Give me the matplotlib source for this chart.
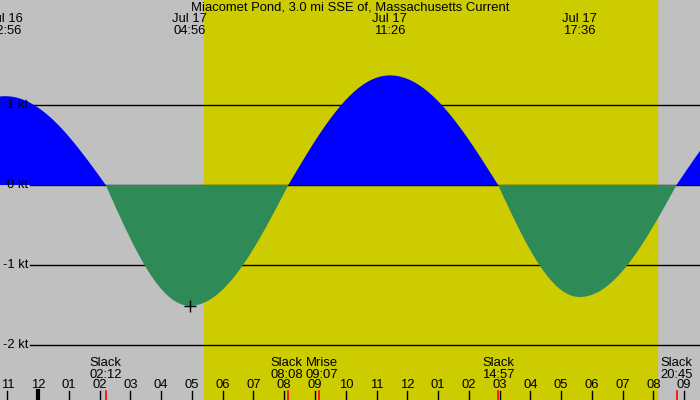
import numpy as np
import matplotlib
matplotlib.use("Agg")
import matplotlib.pyplot as plt

plt.rcParams['font.family'] = ['Liberation Sans', 'DejaVu Sans']

# current events, hours counted from Jul 16 00:00
event_hours = [19.6, 22.933, 26.2, 28.933, 32.133, 35.433, 38.95, 41.6, 44.75, 48.05]
event_speed = [0.0, 1.11, 0.0, -1.51, 0.0, 1.37, 0.0, -1.40, 0.0, 1.20]

# labels along the top (max current times)
top_hours = [22.933, 28.933, 35.433, 41.6]
top_labels = ["Jul 16\n22:56", "Jul 17\n04:56", "Jul 17\n11:26", "Jul 17\n17:36"]

# labels along the bottom (slack + moonrise)
bottom_hours = [26.2, 32.133, 33.117, 38.95, 44.75]
bottom_labels = ["Slack\n02:12", "Slack\n08:08", "Mrise\n09:07", "Slack\n14:57", "Slack\n20:45"]

sunrise = 29.39
sunset = 44.11

hour_ticks = list(range(23, 46))
kt_levels = [1, 0, -1, -2]

BG = "#c0c0c0"
DAY = "#cccc00"
FLOOD = "#0000ff"
EBB = "#2e8b57"
FS = 9.4

px_per_h = 30.77
x0_h = 23 - 7.3 / px_per_h
x1_h = x0_h + 700 / px_per_h


def kt(ypx):
    # pixel row -> knots (0 kt sits at row 185, 80 px per knot)
    return (185 - ypx) / 80.0


fig = plt.figure(figsize=(7, 4), dpi=100)
fig.patch.set_facecolor(BG)
ax = fig.add_axes([0, 0, 1, 1])
ax.set_facecolor(BG)
ax.set_xlim(x0_h, x1_h)
ax.set_ylim(kt(400), kt(0))
ax.axis("off")

ax.axvspan(sunrise, sunset, color=DAY, zorder=0)

# grid lines start just right of the labels
for k in kt_levels:
    ax.plot([x0_h + 30 / px_per_h, x1_h], [k, k], color="black", lw=1, zorder=1)
    ax.text(x0_h + 28 / px_per_h, k, f"{k} kt", ha="right", va="center",
            fontsize=FS, zorder=5)

# quarter-sine between each slack and max
t = np.linspace(x0_h, x1_h, 3000)
v = np.zeros_like(t)
for i in range(len(event_hours) - 1):
    a, b = event_hours[i], event_hours[i + 1]
    m = (t >= a) & (t <= b)
    f = (t[m] - a) / (b - a)
    if event_speed[i] == 0:
        v[m] = event_speed[i + 1] * np.sin(np.pi / 2 * f)
    else:
        v[m] = event_speed[i] * np.cos(np.pi / 2 * f)

ax.fill_between(t, 0, v, where=v >= 0, color=FLOOD, lw=0, zorder=2, interpolate=True)
ax.fill_between(t, 0, v, where=v <= 0, color=EBB, lw=0, zorder=2, interpolate=True)

ax.plot([event_hours[3]], [event_speed[3]], marker="+", color="black", ms=9, mew=1, zorder=4)

ax.text((x0_h + x1_h) / 2, kt(8), "Miacomet Pond, 3.0 mi SSE of, Massachusetts Current",
        ha="center", va="center", fontsize=FS, zorder=5)

for h, lab in zip(top_hours, top_labels):
    ax.text(h, kt(25), lab, ha="center", va="center", fontsize=FS,
            linespacing=1.0, zorder=5)

for h, lab in zip(bottom_hours, bottom_labels):
    # nudge neighbouring labels apart so Slack/Mrise don't collide
    dx = 0
    if lab.startswith("Mrise"):
        dx = 3.5 / px_per_h
    elif h == 32.133:
        dx = -1.5 / px_per_h
    ax.text(h + dx, kt(368.5), lab, ha="center", va="center", fontsize=FS,
            linespacing=1.0, zorder=5)
    ax.plot([h, h], [kt(391), kt(400)], color="red", lw=1.2, zorder=3)

for h in hour_ticks:
    lab = f"{(h - 1) % 12 + 1:02d}"
    ax.text(h, kt(385), lab, ha="center", va="center", fontsize=FS, zorder=5)
    lw = 3 if h == 24 else 1
    ax.plot([h, h], [kt(391), kt(400)], color="black", lw=lw, zorder=3)

fig.savefig("out.png", dpi=100, facecolor=BG)
